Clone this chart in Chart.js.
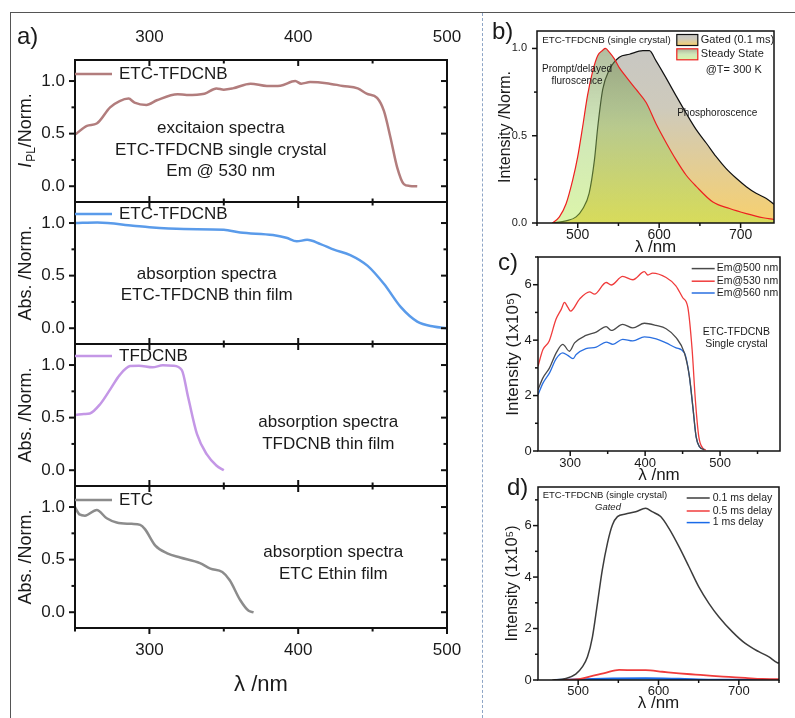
<!DOCTYPE html>
<html>
<head>
<meta charset="utf-8">
<script src="https://cdn.jsdelivr.net/npm/chart.js"></script>
<style>
  html, body { margin: 0; padding: 0; background: #fff; }
  #fig { position: relative; width: 795px; height: 718px; overflow: hidden;
         font-family: "Liberation Sans", Arial, sans-serif; color: #1a1a1a; }
  .box { position: absolute; }
  .lbl { position: absolute; line-height: 1; }
</style>
</head>
<body>
<div id="fig">
  <div style="position:absolute;left:10px;top:12px;width:785px;border-top:1px solid #555"></div>
  <div style="position:absolute;left:10px;top:12px;height:706px;border-left:1px solid #555"></div>
  <div style="position:absolute;left:482px;top:13px;height:705px;border-left:1px dashed #8ea5c6"></div>

  <div class="box" style="left:10px;top:20px;width:465px;height:688px"><canvas id="chA"></canvas></div>
  <div class="box" style="left:494px;top:29px;width:282px;height:229px"><canvas id="chB"></canvas></div>
  <div class="box" style="left:494px;top:255px;width:288px;height:232px"><canvas id="chC"></canvas></div>
  <div class="box" style="left:494px;top:485px;width:287px;height:233px"><canvas id="chD"></canvas></div>

  <div class="lbl" style="left:17px;top:24px;font-size:24px">a)</div>
  <div class="lbl" style="left:492px;top:19px;font-size:24px">b)</div>
  <div class="lbl" style="left:498px;top:250px;font-size:24px">c)</div>
  <div class="lbl" style="left:507px;top:475px;font-size:24px">d)</div>
</div>

<script>
// ---- panel a: excitation / absorption spectra ----
const aXTicks = [300, 400, 500];
const aXMinor = [250, 350, 450];
const aYTicks = [0, 0.5, 1.0];
const aYMinor = [0.25, 0.75];

const a1X = [250.5, 258, 264.6, 273.6, 280, 286, 290, 298, 305, 319, 325, 337, 345, 350, 356, 368, 379, 388, 398, 402, 408, 419, 430, 440, 446, 453, 457.6, 462, 466.5, 471, 475, 480];
const a1Y = [0.495, 0.574, 0.596, 0.75, 0.81, 0.833, 0.795, 0.773, 0.817, 0.874, 0.868, 0.88, 0.93, 0.918, 0.93, 0.975, 0.953, 0.956, 1.0, 0.975, 0.99, 0.98, 0.953, 0.93, 0.88, 0.84, 0.716, 0.464, 0.18, 0.02, 0.003, 0.0];

const a2X = [250, 265, 289, 300, 323, 350, 361, 383, 392, 399, 406, 415, 424, 435, 446.5, 457.7, 469, 480, 491, 500];
const a2Y = [1.0, 1.005, 0.975, 0.96, 0.943, 0.937, 0.91, 0.886, 0.86, 0.826, 0.84, 0.80, 0.747, 0.696, 0.595, 0.42, 0.2, 0.063, 0.016, 0.0];

const a3X = [250.7, 256, 260, 267, 274, 280, 287, 293, 302, 309, 316, 321.8, 326, 332, 338.6, 345, 350];
const a3Y = [0.526, 0.535, 0.54, 0.63, 0.776, 0.904, 0.99, 0.994, 0.978, 0.997, 0.994, 0.952, 0.696, 0.343, 0.15, 0.045, 0.0];

const a4X = [250, 253, 256.7, 264.6, 271.3, 278, 288, 293.8, 297, 304, 312, 320.7, 334, 341, 349, 354, 361, 366.7, 370];
const a4Y = [1.0, 0.93, 0.918, 0.972, 0.893, 0.853, 0.84, 0.83, 0.79, 0.633, 0.56, 0.52, 0.467, 0.414, 0.382, 0.304, 0.116, 0.013, 0.0];

// ---- panel b: normalised emission ----
const bXTicks = [500, 600, 700];
const bXMinor = [450, 550, 650];
const bYTicks = [0, 0.5, 1.0];
const bYMinor = [0.25, 0.75];

const bSteadyX = [469, 477.5, 485.7, 494, 500, 506, 512, 518.4, 524.6, 530.7, 534, 539, 545, 551, 559, 571.7, 584, 596, 608.6, 621, 633, 645.5, 666, 686.5, 707, 727.5, 741];
const bSteadyY = [0, 0.035, 0.11, 0.25, 0.38, 0.55, 0.73, 0.87, 0.96, 0.99, 1.0, 0.977, 0.94, 0.89, 0.84, 0.765, 0.69, 0.57, 0.46, 0.36, 0.275, 0.21, 0.12, 0.083, 0.054, 0.03, 0.02];

const bGatedX = [469, 485.7, 498, 506, 514, 520.5, 524.6, 530.7, 539, 551, 563.5, 580, 588, 596, 608.6, 621, 633, 645.5, 658, 670, 682, 694.7, 707, 719, 731.6, 741];
const bGatedY = [0, 0.012, 0.035, 0.08, 0.17, 0.36, 0.55, 0.765, 0.88, 0.95, 0.967, 0.987, 0.987, 0.93, 0.83, 0.727, 0.63, 0.535, 0.457, 0.38, 0.313, 0.256, 0.208, 0.17, 0.14, 0.108];

// ---- panel c: excitation at three emission wavelengths ----
const cXTicks = [300, 400, 500];
const cXMinor = [350, 450, 550];
const cYTicks = [0, 2, 4, 6];
const cYMinor = [1, 3, 5, 7];

const c500X = [257, 263.6, 272.4, 281.3, 290, 299, 305.8, 321, 334.7, 348, 354.7, 370, 383.6, 399, 414.7, 428, 441.3, 452.4, 459, 463.6, 468, 472.4, 479];
const c500Y = [2.21, 2.64, 3.0, 3.54, 3.85, 3.6, 3.9, 4.17, 4.29, 4.49, 4.35, 4.57, 4.44, 4.61, 4.53, 4.41, 4.09, 3.54, 2.7, 1.61, 0.52, 0.16, 0.04];

const c530X = [257, 263.6, 272, 281, 288, 292.4, 296.9, 300.5, 312.4, 325.8, 332.4, 348, 354.7, 370, 383.6, 399, 403.6, 410, 428, 441, 450, 457, 462.7, 467, 471.6, 477, 481];
const c530Y = [3.06, 3.66, 3.97, 4.75, 5.11, 5.36, 5.18, 5.05, 5.48, 5.74, 5.66, 6.08, 5.99, 6.3, 6.18, 6.47, 6.35, 6.42, 6.26, 5.96, 5.54, 5.18, 3.66, 1.85, 0.52, 0.1, 0.04];

const c560X = [257, 263.6, 272.4, 281.3, 290, 296.7, 303.6, 308, 321, 334.7, 348, 357, 370, 383.6, 399, 414.7, 428, 441.3, 452.4, 459, 463.6, 468, 472.4, 479];
const c560Y = [2.03, 2.45, 2.82, 3.33, 3.54, 3.45, 3.33, 3.48, 3.69, 3.75, 3.93, 3.85, 4.03, 3.97, 4.12, 4.05, 3.9, 3.72, 3.54, 2.7, 1.61, 0.52, 0.16, 0.06];

// ---- panel d: gated emission at three delays ----
const dXTicks = [500, 600, 700];
const dXMinor = [550, 650, 750];
const dYTicks = [0, 2, 4, 6];
const dYMinor = [1, 3, 5, 7];

const d01X = [468, 484.7, 497, 505.4, 511.6, 517.8, 524, 530, 536.4, 542.6, 548.9, 559, 571.6, 584, 592, 602.7, 613, 625.5, 637.9, 650, 662.7, 675, 691.7, 708, 724.8, 737, 748, 750];
const d01Y = [0, 0.06, 0.23, 0.52, 0.9, 1.68, 2.98, 4.27, 5.31, 6.02, 6.35, 6.45, 6.54, 6.67, 6.54, 6.35, 5.89, 5.18, 4.4, 3.63, 2.98, 2.46, 1.88, 1.42, 1.1, 0.91, 0.67, 0.66];

const d05X = [470, 501, 517.8, 534, 551, 571.6, 584, 604.8, 625.5, 646, 667, 687.6, 708, 729, 750];
const d05Y = [0, 0.03, 0.16, 0.28, 0.39, 0.38, 0.38, 0.32, 0.26, 0.21, 0.16, 0.12, 0.08, 0.04, 0.03];

const d1X = [470, 542.6, 584, 625.5, 667, 750];
const d1Y = [0, 0.05, 0.06, 0.04, 0.01, 0];

const FONT = '"Liberation Sans", Arial, sans-serif';
const INK = '#1a1a1a';
Chart.defaults.font.family = FONT;
Chart.defaults.color = INK;

const pts = (xs, ys) => xs.map((x, i) => ({ x: x, y: ys[i] }));
const fixTicks = vals => s => { s.ticks = vals.map(v => ({ value: v })); };

// fill gradients for panel b
const gatedStops = [[0, 'rgb(198,198,196)'], [0.4, 'rgb(206,202,188)'], [1, 'rgb(247,208,110)']];
const steadyStops = [[0, 'rgba(100,115,70,0.55)'], [0.5, 'rgba(150,200,100,0.45)'], [1, 'rgba(177,233,67,0.45)']];
function vGrad(ctx, top, bottom, stops) {
  const g = ctx.createLinearGradient(0, top, 0, bottom);
  stops.forEach(s => g.addColorStop(s[0], s[1]));
  return g;
}
const areaFill = stops => c => {
  const ca = c.chart.chartArea;
  if (!ca) return 'rgba(0,0,0,0)';
  return vGrad(c.chart.ctx, ca.top, ca.bottom, stops);
};

// box + tick marks, drawn through the scales
const framePlugin = {
  id: 'frame',
  afterDatasetsDraw(chart, args, o) {
    const { ctx, chartArea: ca } = chart;
    const xs = chart.scales[o.x || 'x'];
    ctx.save();
    ctx.strokeStyle = o.color || '#111';
    ctx.lineWidth = o.lw;
    const seg = (x1, y1, x2, y2) => { ctx.beginPath(); ctx.moveTo(x1, y1); ctx.lineTo(x2, y2); ctx.stroke(); };
    o.boxes.forEach(b => {
      const ys = chart.scales[b.y];
      const top = ys.top, bot = ys.bottom;
      ctx.strokeRect(ca.left, top, ca.right - ca.left, bot - top);
      const xt = o.xMajor.map(v => [v, o.major]).concat(o.xMinor.map(v => [v, o.minor]));
      xt.forEach(([v, len]) => {
        const px = xs.getPixelForValue(v);
        if (b.topIn) seg(px, top, px, top + len);
        if (b.bottomIn) seg(px, bot, px, bot - len);
        if (b.bottomOut) seg(px, bot, px, bot + len);
      });
      const yt = o.yMajor.map(v => [v, o.major]).concat(o.yMinor.map(v => [v, o.minor]));
      yt.forEach(([v, len]) => {
        const py = ys.getPixelForValue(v);
        seg(ca.left, py, ca.left - len, py);
        if (b.rightIn) seg(ca.right, py, ca.right - len, py);
      });
    });
    ctx.restore();
  }
};

// legends, notes and the I_PL axis title
const decoPlugin = {
  id: 'deco',
  afterDraw(chart, args, o) {
    const { ctx, chartArea: ca } = chart;
    (o.items || []).forEach(it => {
      const x0 = ca.left;
      const y0 = it.ref ? chart.scales[it.ref].top : ca.top;
      const ds = it.ds !== undefined ? chart.data.datasets[it.ds] : null;
      ctx.save();
      ctx.textBaseline = 'middle';
      ctx.fillStyle = it.color || INK;
      if (it.t === 'text') {
        ctx.font = (it.style || '') + ' ' + it.size + 'px ' + FONT;
        ctx.textAlign = it.align || 'left';
        ctx.fillText(it.s, x0 + it.x, y0 + it.y);
      } else if (it.t === 'legend') {
        ctx.strokeStyle = ds.borderColor;
        ctx.lineWidth = it.lw;
        ctx.beginPath();
        ctx.moveTo(x0 + it.x, y0 + it.y);
        ctx.lineTo(x0 + it.x + it.len, y0 + it.y);
        ctx.stroke();
        ctx.font = it.size + 'px ' + FONT;
        ctx.textAlign = 'left';
        ctx.fillText(ds.label, x0 + it.x + it.len + it.gap, y0 + it.y);
      } else if (it.t === 'swatch') {
        const sx = x0 + it.x, sy = y0 + it.y;
        ctx.fillStyle = vGrad(ctx, sy, sy + it.h, it.stops);
        ctx.fillRect(sx, sy, it.w, it.h);
        ctx.strokeStyle = ds.borderColor;
        ctx.lineWidth = 1.2;
        ctx.strokeRect(sx, sy, it.w, it.h);
        ctx.fillStyle = INK;
        ctx.font = it.size + 'px ' + FONT;
        ctx.fillText(ds.label, sx + it.w + 3, sy + it.h / 2);
      } else if (it.t === 'ipl') {
        const s = chart.scales[it.ref];
        ctx.translate(x0 + it.x, (s.top + s.bottom) / 2);
        ctx.rotate(-Math.PI / 2);
        const f1 = 'italic ' + it.size + 'px ' + FONT;
        const f2 = Math.round(it.size * 0.66) + 'px ' + FONT;
        const f3 = it.size + 'px ' + FONT;
        ctx.font = f1; const w1 = ctx.measureText('I').width;
        ctx.font = f2; const w2 = ctx.measureText('PL').width;
        ctx.font = f3; const w3 = ctx.measureText('/Norm.').width;
        let cx = -(w1 + w2 + w3) / 2;
        ctx.textAlign = 'left';
        ctx.font = f1; ctx.fillText('I', cx, 0); cx += w1 + 1;
        ctx.font = f2; ctx.fillText('PL', cx, it.size * 0.3); cx += w2;
        ctx.font = f3; ctx.fillText('/Norm.', cx, 0);
      }
      ctx.restore();
    });
  }
};

function baseOpts(extra) {
  return Object.assign({
    responsive: true,
    maintainAspectRatio: false,
    animation: false,
    events: [],
    elements: { point: { radius: 0 } }
  }, extra);
}

function xAxis(min, max, ticks, size, pad, height, title, titleSize, titlePad, position) {
  return {
    type: 'linear', position: position || 'bottom', min: min, max: max,
    afterFit: s => { s.height = height; s.paddingLeft = 0; s.paddingRight = 0; },
    afterBuildTicks: fixTicks(ticks),
    grid: { display: false, drawTicks: false }, border: { display: false },
    ticks: { font: { size: size }, color: INK, padding: pad, maxRotation: 0, autoSkip: false },
    title: { display: !!title, text: title, font: { size: titleSize }, color: INK, padding: titlePad }
  };
}
function yAxis(min, max, ticks, size, pad, width, title, titleSize, titlePad, fmt) {
  return {
    type: 'linear', position: 'left', min: min, max: max,
    afterFit: s => { s.width = width; s.paddingTop = 0; s.paddingBottom = 0; },
    afterBuildTicks: fixTicks(ticks),
    grid: { display: false, drawTicks: false }, border: { display: false },
    ticks: { font: { size: size }, color: INK, padding: pad, callback: fmt || (v => v) },
    title: { display: !!title, text: title, font: { size: titleSize }, color: INK, padding: titlePad }
  };
}

// ---------- panel a ----------
const aIds = ['ya1', 'ya2', 'ya3', 'ya4'];
const aScales = {
  x: xAxis(250, 500, aXTicks, 17, 12, 80, 'λ /nm', 22, { top: 0, bottom: 10 }),
  xTop: xAxis(250, 500, aXTicks, 17, 12, 40, '', 17, 0, 'top')
};
aIds.forEach((id, i) => {
  const y = yAxis(-0.15, 1.2, aYTicks, 17, 10, 65, i > 0 ? 'Abs. /Norm.' : '', 18, { top: 5 }, v => v.toFixed(1));
  y.stack = 'a';
  y.stackWeight = 1;
  y.weight = 4 - i;
  aScales[id] = y;
});

const aLine = (label, xs, ys, axis, color) => ({
  label: label, data: pts(xs, ys), xAxisID: 'x', yAxisID: axis,
  borderColor: color, borderWidth: 2.5, fill: false, cubicInterpolationMode: 'monotone'
});

new Chart(document.getElementById('chA'), {
  type: 'line',
  data: {
    datasets: [
      aLine('ETC-TFDCNB', a1X, a1Y, 'ya1', '#b27d7d'),
      aLine('ETC-TFDCNB', a2X, a2Y, 'ya2', '#5a9bea'),
      aLine('TFDCNB', a3X, a3Y, 'ya3', '#c497e6'),
      aLine('ETC', a4X, a4Y, 'ya4', '#8c8c8c')
    ]
  },
  options: baseOpts({
    layout: { padding: { left: 0, right: 28, top: 0, bottom: 0 } },
    scales: aScales,
    plugins: {
      legend: { display: false }, tooltip: { enabled: false },
      frame: {
        x: 'x', lw: 2, major: 6, minor: 3.5,
        xMajor: aXTicks, xMinor: aXMinor, yMajor: aYTicks, yMinor: aYMinor,
        boxes: [
          { y: 'ya1', topIn: true, bottomIn: true, rightIn: true },
          { y: 'ya2', topIn: true, bottomIn: true, rightIn: true },
          { y: 'ya3', topIn: true, bottomIn: true, rightIn: true },
          { y: 'ya4', topIn: true, bottomOut: true, rightIn: true }
        ]
      },
      deco: {
        items: [
          { t: 'ipl', ref: 'ya1', x: -49, size: 18 },
          { t: 'legend', ds: 0, ref: 'ya1', x: 0, y: 14, len: 37, gap: 7, size: 17, lw: 2.5 },
          { t: 'legend', ds: 1, ref: 'ya2', x: 0, y: 12, len: 37, gap: 7, size: 17, lw: 2.5 },
          { t: 'legend', ds: 2, ref: 'ya3', x: 0, y: 12, len: 37, gap: 7, size: 17, lw: 2.5 },
          { t: 'legend', ds: 3, ref: 'ya4', x: 0, y: 14, len: 37, gap: 7, size: 17, lw: 2.5 },
          { t: 'text', ref: 'ya1', s: 'excitaion spectra', x: 145.8, y: 68.3, size: 17, align: 'center' },
          { t: 'text', ref: 'ya1', s: 'ETC-TFDCNB single crystal', x: 145.8, y: 90, size: 17, align: 'center' },
          { t: 'text', ref: 'ya1', s: 'Em @ 530 nm', x: 145.8, y: 111.7, size: 17, align: 'center' },
          { t: 'text', ref: 'ya2', s: 'absorption spectra', x: 131.7, y: 72.3, size: 17, align: 'center' },
          { t: 'text', ref: 'ya2', s: 'ETC-TFDCNB thin film', x: 131.7, y: 93.5, size: 17, align: 'center' },
          { t: 'text', ref: 'ya3', s: 'absorption spectra', x: 253.3, y: 78.7, size: 17, align: 'center' },
          { t: 'text', ref: 'ya3', s: 'TFDCNB thin film', x: 253.3, y: 100.5, size: 17, align: 'center' },
          { t: 'text', ref: 'ya4', s: 'absorption spectra', x: 258.3, y: 66.7, size: 17, align: 'center' },
          { t: 'text', ref: 'ya4', s: 'ETC Ethin film', x: 258.3, y: 88.5, size: 17, align: 'center' }
        ]
      }
    }
  }),
  plugins: [framePlugin, decoPlugin]
});

// ---------- panel b ----------
new Chart(document.getElementById('chB'), {
  type: 'line',
  data: {
    datasets: [
      { label: 'Steady State', data: pts(bSteadyX, bSteadyY), borderColor: '#ee2020', borderWidth: 1.2,
        fill: 'origin', backgroundColor: areaFill(steadyStops), cubicInterpolationMode: 'monotone' },
      { label: 'Gated (0.1 ms)', data: pts(bGatedX, bGatedY), borderColor: '#111', borderWidth: 1.2,
        fill: 'origin', backgroundColor: areaFill(gatedStops), cubicInterpolationMode: 'monotone' }
    ]
  },
  options: baseOpts({
    layout: { padding: { left: 0, right: 2, top: 2, bottom: 0 } },
    scales: {
      x: xAxis(450, 741, bXTicks, 14, 3.6, 35, 'λ /nm', 17, { top: 0, bottom: 0 }),
      y: yAxis(0, 1.1, bYTicks, 11, 10, 43, 'Intensity /Norm.', 16, { top: 2 }, v => v.toFixed(1))
    },
    plugins: {
      legend: { display: false }, tooltip: { enabled: false },
      frame: { lw: 1.5, major: 5, minor: 3, xMajor: bXTicks, xMinor: bXMinor, yMajor: bYTicks, yMinor: bYMinor,
               boxes: [{ y: 'y', bottomOut: true }] },
      deco: {
        items: [
          { t: 'text', s: 'ETC-TFDCNB (single crystal)', x: 5.2, y: 9, size: 9.8 },
          { t: 'text', s: 'Prompt/delayed', x: 40, y: 38.5, size: 10, align: 'center' },
          { t: 'text', s: 'fluroscence', x: 40, y: 50.2, size: 10, align: 'center' },
          { t: 'text', s: 'Phosphoroscence', x: 180.2, y: 81.8, size: 10, align: 'center' },
          { t: 'swatch', ds: 1, stops: gatedStops, x: 139.8, y: 3.5, w: 21, h: 11, size: 11 },
          { t: 'swatch', ds: 0, stops: steadyStops, x: 139.8, y: 17.8, w: 21, h: 11, size: 11 },
          { t: 'text', s: '@T= 300 K', x: 196.7, y: 38.5, size: 11, align: 'center' }
        ]
      }
    }
  }),
  plugins: [framePlugin, decoPlugin]
});

// ---------- panel c ----------
const thin = (label, xs, ys, color, w) => ({
  label: label, data: pts(xs, ys), borderColor: color, borderWidth: w || 1.3,
  fill: false, cubicInterpolationMode: 'monotone'
});

new Chart(document.getElementById('chC'), {
  type: 'line',
  data: {
    datasets: [
      thin('Em@500 nm', c500X, c500Y, '#4a4a4a'),
      thin('Em@530 nm', c530X, c530Y, '#f03c3c'),
      thin('Em@560 nm', c560X, c560Y, '#2a6fe0')
    ]
  },
  options: baseOpts({
    layout: { padding: { left: 0, right: 2, top: 2, bottom: 0 } },
    scales: {
      x: xAxis(257, 580, cXTicks, 13, 4.5, 36, 'λ /nm', 17, { top: 0, bottom: 1 }),
      y: yAxis(0, 7, cYTicks, 13, 6.3, 44, 'Intensity (1x10⁵)', 17, { top: 9 })
    },
    plugins: {
      legend: { display: false }, tooltip: { enabled: false },
      frame: { lw: 1.5, major: 5, minor: 3, xMajor: cXTicks, xMinor: cXMinor, yMajor: cYTicks, yMinor: cYMinor,
               boxes: [{ y: 'y', bottomOut: true }] },
      deco: {
        items: [
          { t: 'legend', ds: 0, x: 153.7, y: 11.6, len: 23, gap: 2, size: 10.5, lw: 1.5 },
          { t: 'legend', ds: 1, x: 153.7, y: 24.2, len: 23, gap: 2, size: 10.5, lw: 1.5 },
          { t: 'legend', ds: 2, x: 153.7, y: 36, len: 23, gap: 2, size: 10.5, lw: 1.5 },
          { t: 'text', s: 'ETC-TFDCNB', x: 198.4, y: 75, size: 10.5, align: 'center' },
          { t: 'text', s: 'Single crystal', x: 198.4, y: 87.6, size: 10.5, align: 'center' }
        ]
      }
    }
  }),
  plugins: [framePlugin, decoPlugin]
});

// ---------- panel d ----------
new Chart(document.getElementById('chD'), {
  type: 'line',
  data: {
    datasets: [
      thin('0.1 ms delay', d01X, d01Y, '#3c3c3c', 1.5),
      thin('0.5 ms delay', d05X, d05Y, '#f03c3c', 1.8),
      thin('1 ms delay', d1X, d1Y, '#1a6ae8', 2.2)
    ]
  },
  options: baseOpts({
    layout: { padding: { left: 0, right: 2, top: 2, bottom: 0 } },
    scales: {
      x: xAxis(450, 750, dXTicks, 13, 3.9, 38, 'λ /nm', 17, { top: 0, bottom: 4.5 }),
      y: yAxis(0, 7.5, dYTicks, 13, 6.3, 44, 'Intensity (1x10⁵)', 16, { top: 9.4 })
    },
    plugins: {
      legend: { display: false }, tooltip: { enabled: false },
      frame: { lw: 1.5, major: 5, minor: 3, xMajor: dXTicks, xMinor: dXMinor, yMajor: dYTicks, yMinor: dYMinor,
               boxes: [{ y: 'y', bottomOut: true }] },
      deco: {
        items: [
          { t: 'text', s: 'ETC-TFDCNB (single crystal)', x: 4.7, y: 8.3, size: 9.5 },
          { t: 'text', s: 'Gated', x: 70, y: 20, size: 9.5, style: 'italic', align: 'center' },
          { t: 'legend', ds: 0, x: 148.7, y: 11, len: 23, gap: 3, size: 10.5, lw: 1.5 },
          { t: 'legend', ds: 1, x: 148.7, y: 24, len: 23, gap: 3, size: 10.5, lw: 1.5 },
          { t: 'legend', ds: 2, x: 148.7, y: 35.6, len: 23, gap: 3, size: 10.5, lw: 1.5 }
        ]
      }
    }
  }),
  plugins: [framePlugin, decoPlugin]
});
</script>
</body>
</html>
